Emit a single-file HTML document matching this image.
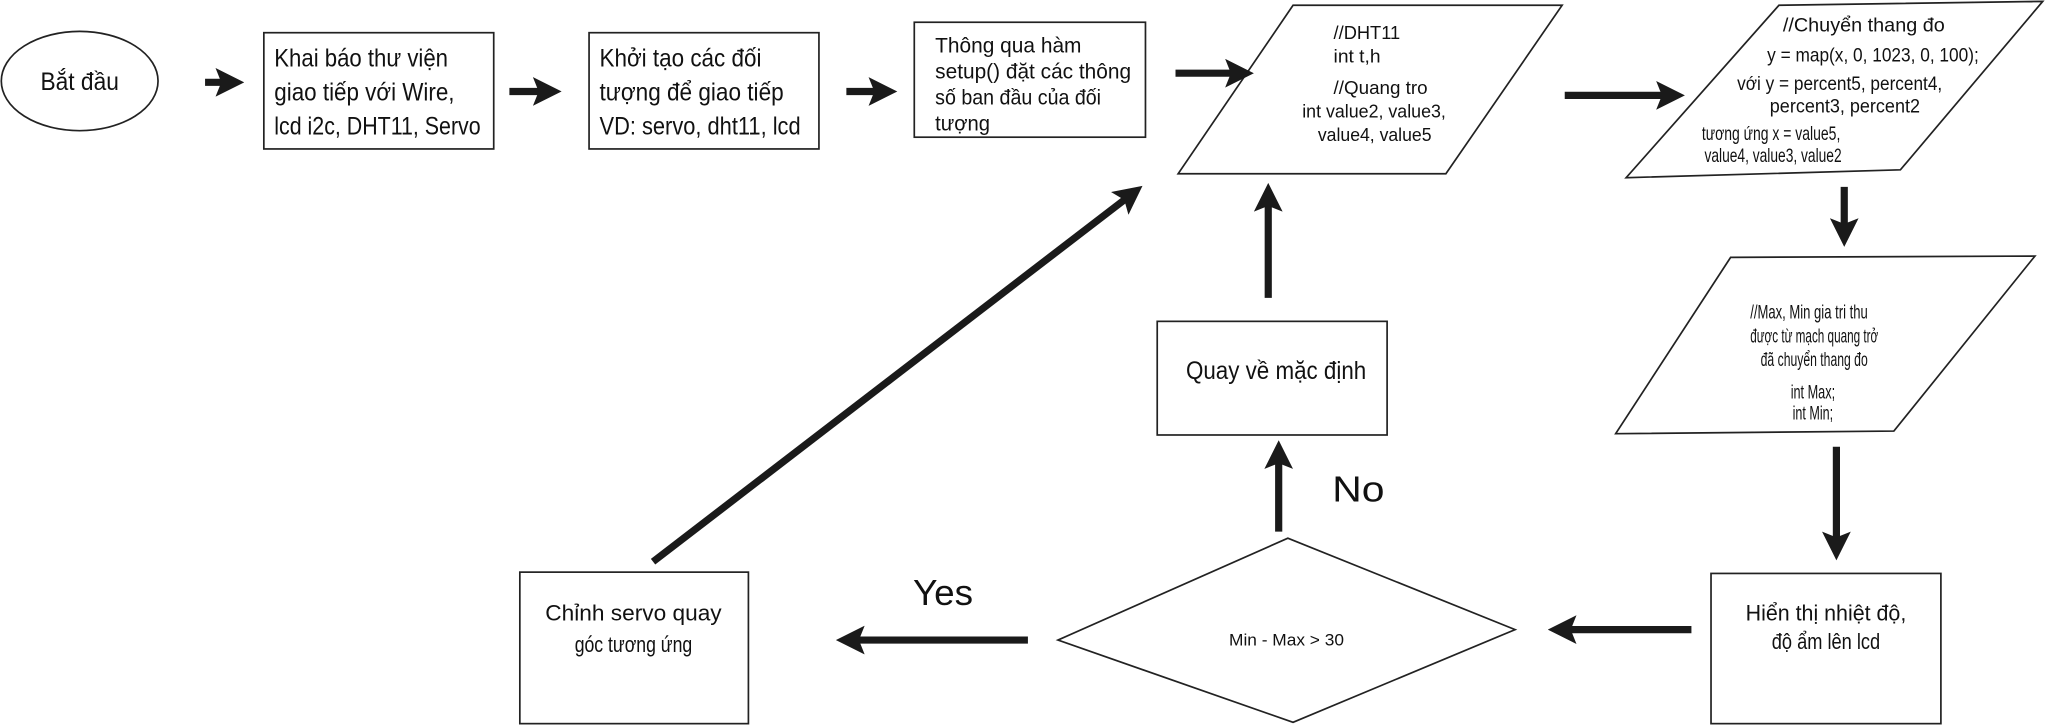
<!DOCTYPE html>
<html><head><meta charset="utf-8"><style>
html,body{margin:0;padding:0;background:#fff;}
svg{display:block;}
text{font-family:"Liberation Sans","Noto Sans CJK SC",sans-serif;fill:#111;}
</style></head><body>
<svg width="2048" height="725" viewBox="0 0 1568 555" xmlns="http://www.w3.org/2000/svg">
<defs>
<marker id="ah" markerWidth="4" markerHeight="4" refX="2" refY="2" orient="auto" markerUnits="strokeWidth">
<path d="M0,0 L4,2 L0,4 L0.8,2 Z" fill="#1a1a1a"/>
</marker>
</defs>
<g fill="none" stroke="#222" stroke-width="1.3">
<ellipse cx="61" cy="62" rx="60" ry="38"/>
<rect x="202" y="25" width="176" height="89"/>
<rect x="451" y="25" width="176" height="89"/>
<rect x="700" y="17" width="177" height="88"/>
<polygon points="990,4 1196,4 1107,133 902,133"/>
<polygon points="1362,4 1564,1 1455,130 1245,136"/>
<polygon points="1325,197 1558,196 1450,330 1237,332"/>
<rect x="1310" y="439" width="176" height="115"/>
<polygon points="986,412 1160,482 990,553 810,490"/>
<rect x="398" y="438" width="175" height="116"/>
<rect x="886" y="246" width="176" height="87"/>
</g>
<g stroke="#1a1a1a" stroke-width="5.5" fill="none" marker-end="url(#ah)">
<line x1="157" y1="63" x2="176" y2="63"/>
<line x1="390" y1="70" x2="419" y2="70"/>
<line x1="648" y1="70" x2="676" y2="70"/>
<line x1="900" y1="56" x2="949" y2="56"/>
<line x1="1198" y1="73" x2="1279" y2="73"/>
<line x1="1412" y1="143" x2="1412" y2="178"/>
<line x1="1406" y1="342" x2="1406" y2="418"/>
<line x1="1295" y1="482" x2="1196" y2="482"/>
<line x1="787" y1="490" x2="651" y2="490"/>
<line x1="500" y1="430" x2="866" y2="149"/>
<line x1="979" y1="407" x2="979" y2="348"/>
<line x1="971" y1="228" x2="971" y2="151"/>
</g>
<g font-size="19">
<text x="61" y="69" text-anchor="middle" textLength="60" lengthAdjust="spacingAndGlyphs">Bắt đầu</text>
<text x="210" y="51" textLength="133" lengthAdjust="spacingAndGlyphs">Khai báo thư viện</text>
<text x="210" y="77" textLength="138" lengthAdjust="spacingAndGlyphs">giao tiếp với Wire,</text>
<text x="210" y="103" textLength="158" lengthAdjust="spacingAndGlyphs">lcd i2c, DHT11, Servo</text>
<text x="459" y="51" textLength="124" lengthAdjust="spacingAndGlyphs">Khởi tạo các đối</text>
<text x="459" y="77" textLength="141" lengthAdjust="spacingAndGlyphs">tượng để giao tiếp</text>
<text x="459" y="103" textLength="154" lengthAdjust="spacingAndGlyphs">VD: servo, dht11, lcd</text>
</g>
<g font-size="16">
<text x="716" y="40" textLength="112" lengthAdjust="spacingAndGlyphs">Thông qua hàm</text>
<text x="716" y="60" textLength="150" lengthAdjust="spacingAndGlyphs">setup() đặt các thông</text>
<text x="716" y="80" textLength="127" lengthAdjust="spacingAndGlyphs">số ban đầu của đối</text>
<text x="716" y="100" textLength="42" lengthAdjust="spacingAndGlyphs">tượng</text>
</g>
<g font-size="14">
<text x="1021" y="30" textLength="51" lengthAdjust="spacingAndGlyphs">//DHT11</text>
<text x="1021" y="48" textLength="36" lengthAdjust="spacingAndGlyphs">int t,h</text>
<text x="1021" y="72" textLength="72" lengthAdjust="spacingAndGlyphs">//Quang tro</text>
<text x="997" y="90" textLength="110" lengthAdjust="spacingAndGlyphs">int value2, value3,</text>
<text x="1009" y="108" textLength="87" lengthAdjust="spacingAndGlyphs">value4, value5</text>
</g>
<g font-size="15">
<text x="1365" y="24" textLength="124" lengthAdjust="spacingAndGlyphs">//Chuyển thang đo</text>
<text x="1353" y="47" textLength="162" lengthAdjust="spacingAndGlyphs">y = map(x, 0, 1023, 0, 100);</text>
<text x="1330" y="69" textLength="157" lengthAdjust="spacingAndGlyphs">với y = percent5, percent4,</text>
<text x="1355" y="86" textLength="115" lengthAdjust="spacingAndGlyphs">percent3, percent2</text>
<text x="1303" y="107" textLength="106" lengthAdjust="spacingAndGlyphs">tương ứng x = value5,</text>
<text x="1305" y="124" textLength="105" lengthAdjust="spacingAndGlyphs">value4, value3, value2</text>
</g>
<g font-size="15">
<text x="1340" y="244" textLength="90" lengthAdjust="spacingAndGlyphs">//Max, Min gia tri thu</text>
<text x="1340" y="262" textLength="98" lengthAdjust="spacingAndGlyphs">được từ mạch quang trở</text>
<text x="1348" y="280" textLength="82" lengthAdjust="spacingAndGlyphs">đã chuyển thang đo</text>
<text x="1388" y="305" text-anchor="middle" textLength="34" lengthAdjust="spacingAndGlyphs">int Max;</text>
<text x="1388" y="321" text-anchor="middle" textLength="31" lengthAdjust="spacingAndGlyphs">int Min;</text>
</g>
<g font-size="17">
<text x="1398" y="475" text-anchor="middle" textLength="123" lengthAdjust="spacingAndGlyphs">Hiển thị nhiệt độ,</text>
<text x="1398" y="497" text-anchor="middle" textLength="83" lengthAdjust="spacingAndGlyphs">độ ẩm lên lcd</text>
<text x="485" y="475" text-anchor="middle" textLength="135" lengthAdjust="spacingAndGlyphs">Chỉnh servo quay</text>
<text x="485" y="499" text-anchor="middle" textLength="90" lengthAdjust="spacingAndGlyphs">góc tương ứng</text>
<text x="977" y="290" text-anchor="middle" textLength="138" lengthAdjust="spacingAndGlyphs" font-size="19">Quay về mặc định</text>
</g>
<text x="985" y="494" text-anchor="middle" font-size="13" textLength="88" lengthAdjust="spacingAndGlyphs">Min - Max &gt; 30</text>
<text x="722" y="463" text-anchor="middle" font-size="28" textLength="46" lengthAdjust="spacingAndGlyphs">Yes</text>
<text x="1040" y="384" text-anchor="middle" font-size="28" textLength="40" lengthAdjust="spacingAndGlyphs">No</text>
</svg>
</body></html>
